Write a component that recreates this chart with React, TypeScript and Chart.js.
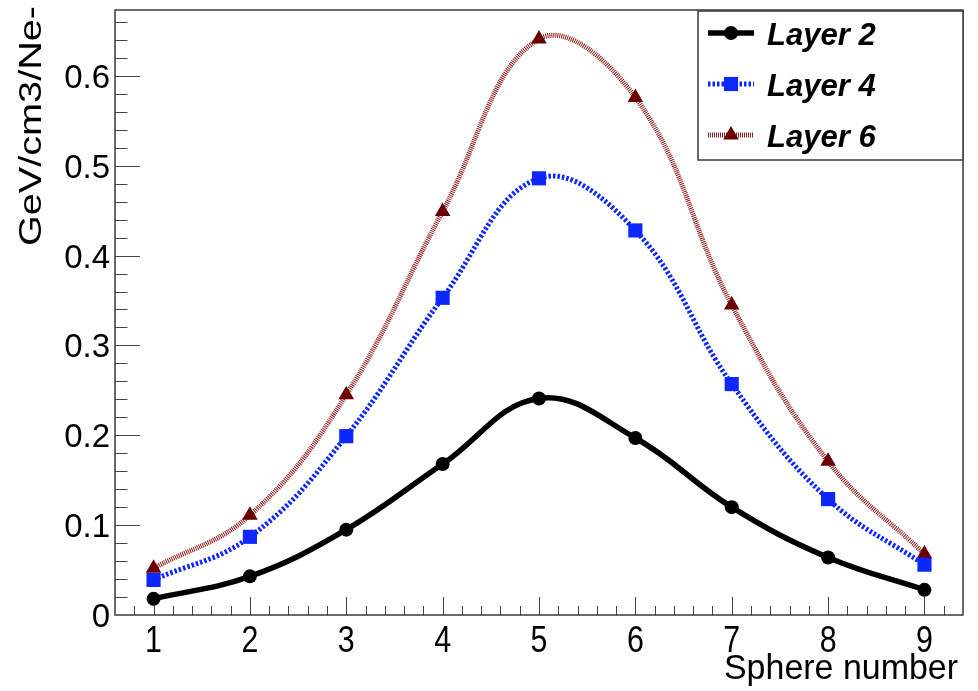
import { useEffect, useRef } from 'react';
import { Chart, registerables } from 'chart.js';

Chart.register(...registerables);

// Sphere index along the x axis
const spheres = [1, 2, 3, 4, 5, 6, 7, 8, 9];

// Deposited energy per sphere, GeV/cm3/Ne-
const layer2 = [0.018, 0.043, 0.095, 0.168, 0.241, 0.197, 0.12, 0.064, 0.028];
const layer4 = [0.039, 0.087, 0.199, 0.353, 0.486, 0.428, 0.257, 0.129, 0.056];
const layer6 = [0.052, 0.111, 0.245, 0.449, 0.641, 0.576, 0.345, 0.171, 0.068];

const seriesNames = ['Layer 2', 'Layer 4', 'Layer 6'];

// Axis tick values and their labels
const xTickValues = [1, 2, 3, 4, 5, 6, 7, 8, 9];
const xTickLabels = ['1', '2', '3', '4', '5', '6', '7', '8', '9'];
const yTickValues = [0, 0.1, 0.2, 0.3, 0.4, 0.5, 0.6];
const yTickLabels = ['0', '0.1', '0.2', '0.3', '0.4', '0.5', '0.6'];

const X_MIN = 0.6;
const X_MAX = 9.4;
const Y_MIN = 0;
const Y_MAX = 0.6733;
const X_MINOR = 0.2;
const Y_MINOR = 0.02;

const xTitle = 'Sphere number';
const yTitle = 'GeV/cm3/Ne-';

type SeriesStyle = {
  color: string;
  markerColor: string;
  width: number;
  dash: number[];
  marker: 'circle' | 'rect' | 'triangle';
  radius: number;
};

const styles: SeriesStyle[] = [
  { color: '#000000', markerColor: '#000000', width: 5.5, dash: [], marker: 'circle', radius: 7 },
  { color: 'rgb(12, 40, 255)', markerColor: 'rgb(12, 40, 255)', width: 5, dash: [2.5, 2], marker: 'rect', radius: 10 },
  { color: '#8e1c1c', markerColor: '#6b0000', width: 5, dash: [1, 1], marker: 'triangle', radius: 9 },
];

const SANS = '"Liberation Sans", Arial, sans-serif';

function drawText(
  ctx: CanvasRenderingContext2D,
  text: string,
  x: number,
  y: number,
  font: string,
  align: CanvasTextAlign,
  sx: number,
  rot = 0,
) {
  ctx.save();
  ctx.translate(x, y);
  if (rot) ctx.rotate(rot);
  ctx.scale(sx, 1);
  ctx.font = font;
  ctx.textAlign = align;
  ctx.textBaseline = 'alphabetic';
  ctx.fillStyle = '#000';
  ctx.fillText(text, 0, 0);
  ctx.restore();
}

function drawMarker(ctx: CanvasRenderingContext2D, s: SeriesStyle, x: number, y: number) {
  ctx.save();
  ctx.setLineDash([]);
  ctx.fillStyle = s.markerColor;
  ctx.beginPath();
  if (s.marker === 'circle') {
    ctx.arc(x, y, s.radius, 0, Math.PI * 2);
  } else if (s.marker === 'rect') {
    const h = s.radius * Math.SQRT1_2;
    ctx.rect(x - h, y - h, 2 * h, 2 * h);
  } else {
    const r = s.radius;
    let a = 0;
    ctx.moveTo(x + Math.sin(a) * r, y - Math.cos(a) * r);
    a += (2 * Math.PI) / 3;
    ctx.lineTo(x + Math.sin(a) * r, y - Math.cos(a) * r);
    a += (2 * Math.PI) / 3;
    ctx.lineTo(x + Math.sin(a) * r, y - Math.cos(a) * r);
    ctx.closePath();
  }
  ctx.fill();
  ctx.restore();
}

const framePlugin = {
  id: 'framePlugin',
  beforeDatasetsDraw(chart: any) {
    const { ctx, chartArea: a } = chart;
    const xs = chart.scales.x;
    const ys = chart.scales.y;
    ctx.save();

    // tick marks pointing into the frame
    ctx.strokeStyle = '#444';
    ctx.lineWidth = 1;
    ctx.beginPath();
    const kx0 = Math.ceil(X_MIN / X_MINOR - 1e-6);
    const kx1 = Math.floor(X_MAX / X_MINOR + 1e-6);
    for (let k = kx0; k <= kx1; k++) {
      const px = Math.round(xs.getPixelForValue(k * X_MINOR)) + 0.5;
      if (px < a.left + 2 || px > a.right - 2) continue;
      const len = k % 5 === 0 ? 18 : 9;
      ctx.moveTo(px, a.bottom);
      ctx.lineTo(px, a.bottom - len);
    }
    const ky0 = Math.ceil(Y_MIN / Y_MINOR - 1e-6);
    const ky1 = Math.floor(Y_MAX / Y_MINOR + 1e-6);
    for (let k = ky0; k <= ky1; k++) {
      const py = Math.round(ys.getPixelForValue(k * Y_MINOR)) + 0.5;
      if (py < a.top + 2 || py > a.bottom - 2) continue;
      const len = k % 5 === 0 ? 25 : 12.5;
      ctx.moveTo(a.left, py);
      ctx.lineTo(a.left + len, py);
    }
    ctx.stroke();

    // frame
    ctx.strokeStyle = '#3a3a3a';
    ctx.lineWidth = 1.5;
    ctx.strokeRect(a.left, a.top, a.right - a.left, a.bottom - a.top);

    // tick labels
    xTickValues.forEach((v, i) => {
      drawText(ctx, xTickLabels[i], xs.getPixelForValue(v), 652, `37px ${SANS}`, 'center', 0.82);
    });
    yTickValues.forEach((v, i) => {
      drawText(ctx, yTickLabels[i], a.left - 5, ys.getPixelForValue(v) + 12, `33px ${SANS}`, 'right', 1.0);
    });

    // axis titles
    drawText(ctx, xTitle, a.right - 5, 679, `35px ${SANS}`, 'right', 0.97);
    ctx.save();
    ctx.font = `31px ${SANS}`;
    const w = ctx.measureText(yTitle).width;
    ctx.restore();
    drawText(ctx, yTitle, 41, a.top - 4, `31px ${SANS}`, 'right', 240 / w, -Math.PI / 2);

    ctx.restore();
  },
  afterDatasetsDraw(chart: any) {
    const { ctx, chartArea: a } = chart;
    ctx.save();
    const box = { left: 698, top: a.top + 1, right: a.right, bottom: 160 };
    ctx.fillStyle = '#fff';
    ctx.fillRect(box.left, box.top, box.right - box.left, box.bottom - box.top);
    ctx.strokeStyle = '#3a3a3a';
    ctx.lineWidth = 1.5;
    ctx.strokeRect(box.left, box.top, box.right - box.left, box.bottom - box.top);

    const rowY = [33, 84, 135];
    seriesNames.forEach((name, i) => {
      const s = styles[i];
      const y = rowY[i];
      ctx.save();
      ctx.strokeStyle = s.color;
      ctx.lineWidth = s.width;
      ctx.setLineDash(s.dash);
      ctx.beginPath();
      ctx.moveTo(708, y);
      ctx.lineTo(754, y);
      ctx.stroke();
      ctx.restore();
      drawMarker(ctx, s, 731, y);
      drawText(ctx, name, 767, y + 12, `bold italic 32px ${SANS}`, 'left', 0.97);
    });
    ctx.restore();
  },
};

export default function App() {
  const ref = useRef<HTMLCanvasElement | null>(null);

  useEffect(() => {
    if (!ref.current) return;
    const series = [layer2, layer4, layer6];
    const chart = new Chart(ref.current, {
      type: 'line',
      data: {
        datasets: series.map((vals, i) => ({
          label: seriesNames[i],
          data: spheres.map((x, j) => ({ x, y: vals[j] })),
          borderColor: styles[i].color,
          borderWidth: styles[i].width,
          borderDash: styles[i].dash,
          borderCapStyle: 'butt' as const,
          borderJoinStyle: 'round' as const,
          tension: 0.4,
          fill: false,
          pointStyle: styles[i].marker,
          pointRadius: styles[i].radius,
          pointBackgroundColor: styles[i].markerColor,
          pointBorderColor: styles[i].markerColor,
          pointBorderWidth: 0,
        })),
      },
      options: {
        responsive: false,
        animation: false,
        devicePixelRatio: 1,
        layout: { padding: { left: 115, top: 9, right: 15, bottom: 76 } },
        plugins: { legend: { display: false }, tooltip: { enabled: false } },
        events: [],
        scales: {
          x: { type: 'linear', min: X_MIN, max: X_MAX, display: false },
          y: { type: 'linear', min: Y_MIN, max: Y_MAX, display: false },
        },
      },
      plugins: [framePlugin],
    });
    return () => chart.destroy();
  }, []);

  return (
    <div style={{ position: 'fixed', left: 0, top: 0, width: 978, height: 691, background: '#fff' }}>
      <canvas ref={ref} width={978} height={691} style={{ display: 'block' }} />
    </div>
  );
}
